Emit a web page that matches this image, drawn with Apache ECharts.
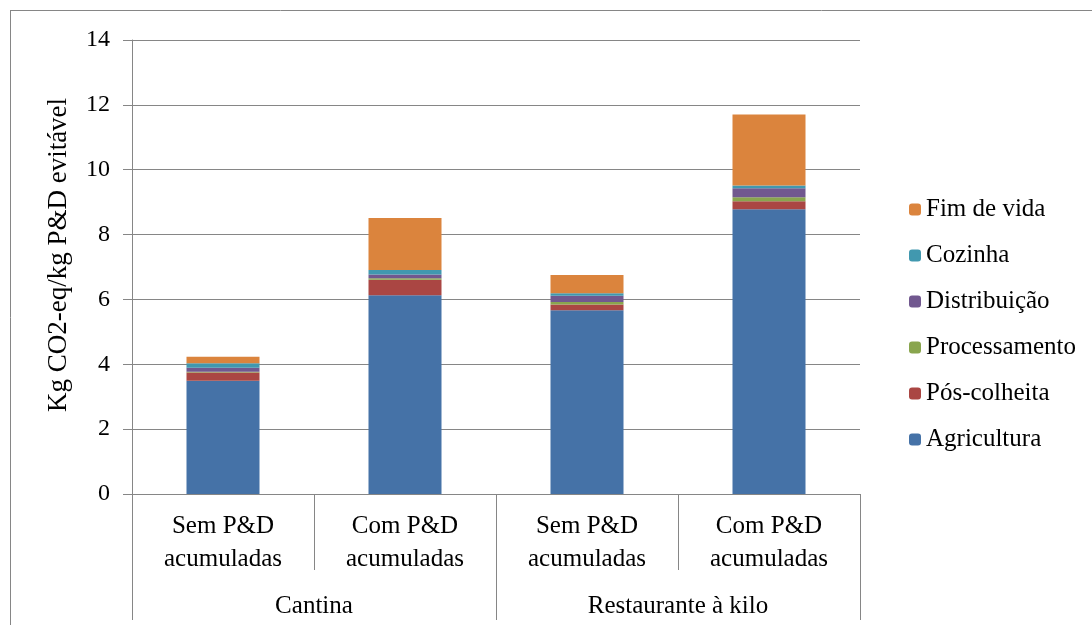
<!DOCTYPE html>
<html><head><meta charset="utf-8">
<script src="https://cdn.jsdelivr.net/npm/echarts@6/dist/echarts.min.js"></script>
<style>html,body{margin:0;padding:0;background:#fff}#c{width:1092px;height:625px}</style>
</head><body><div id="c"></div>
<script>
var categories = ['Sem P&D\nacumuladas','Com P&D\nacumuladas','Sem P&D\nacumuladas','Com P&D\nacumuladas'];
var groups = ['Cantina','Restaurante à kilo'];
var agricultura   = [3.49, 6.13, 5.67, 8.78];
var posColheita   = [0.26, 0.48, 0.17, 0.25];
var processamento = [0.02, 0.04, 0.08, 0.12];
var distribuicao  = [0.12, 0.12, 0.19, 0.28];
var cozinha       = [0.14, 0.14, 0.08, 0.08];
var fimDeVida     = [0.20, 1.60, 0.56, 2.19];
var yTicks = [0,2,4,6,8,10,12,14];

var font = '"Liberation Serif", "Times New Roman", serif';
var names = ['Agricultura','Pós-colheita','Processamento','Distribuição','Cozinha','Fim de vida'];
var datas = [agricultura,posColheita,processamento,distribuicao,cozinha,fimDeVida];
var colors = ['#4572a7','#aa4643','#89a54e','#71588f','#4198af','#db843d'];
var series = names.map(function(n,i){
  return {name:n,type:'bar',stack:'t',data:datas[i],barWidth:73,xAxisIndex:0,
    itemStyle:{color:colors[i]}};
});
var chart = echarts.init(document.getElementById('c'));
chart.setOption({
  animation:false,
  textStyle:{fontFamily:font},
  grid:{left:132,right:232,top:40,bottom:131},
  legend:{orient:'vertical',left:904,top:192,itemWidth:12,itemHeight:12,itemGap:21,
    data:names.slice().reverse(),
    textStyle:{fontFamily:font,fontSize:25,color:'#000'}},
  xAxis:[
    {type:'category',data:categories,position:'bottom',
     axisLine:{lineStyle:{color:'#868686'}},
     axisTick:{show:true,interval:0,length:76,lineStyle:{color:'#868686'}},
     axisLabel:{interval:0,margin:16,fontSize:25,lineHeight:33,color:'#000',fontFamily:font}},
    {type:'category',data:groups,position:'bottom',
     axisLine:{show:false},
     axisTick:{show:true,interval:0,length:126,lineStyle:{color:'#868686'}},
     axisLabel:{interval:0,margin:100,fontSize:25,color:'#000',fontFamily:font}}
  ],
  yAxis:{type:'value',min:yTicks[0],max:yTicks[yTicks.length-1],interval:2,
    name:'Kg CO2-eq/kg P&D evitável',nameLocation:'middle',nameGap:60,
    nameTextStyle:{fontSize:27,color:'#000',fontFamily:font,padding:[0,0,0,24]},
    axisLine:{show:true,lineStyle:{color:'#868686'}},
    axisTick:{show:true,length:9,lineStyle:{color:'#868686'}},
    splitLine:{lineStyle:{color:'#868686'}},
    axisLabel:{fontSize:24,margin:22,color:'#000',fontFamily:font}},
  graphic:[
    {type:'line',shape:{x1:10,y1:10.5,x2:1092,y2:10.5},style:{stroke:'#868686',lineWidth:1}},
    {type:'line',shape:{x1:10.5,y1:10,x2:10.5,y2:625},style:{stroke:'#868686',lineWidth:1}}
  ],
  series:series
});
</script></body></html>
